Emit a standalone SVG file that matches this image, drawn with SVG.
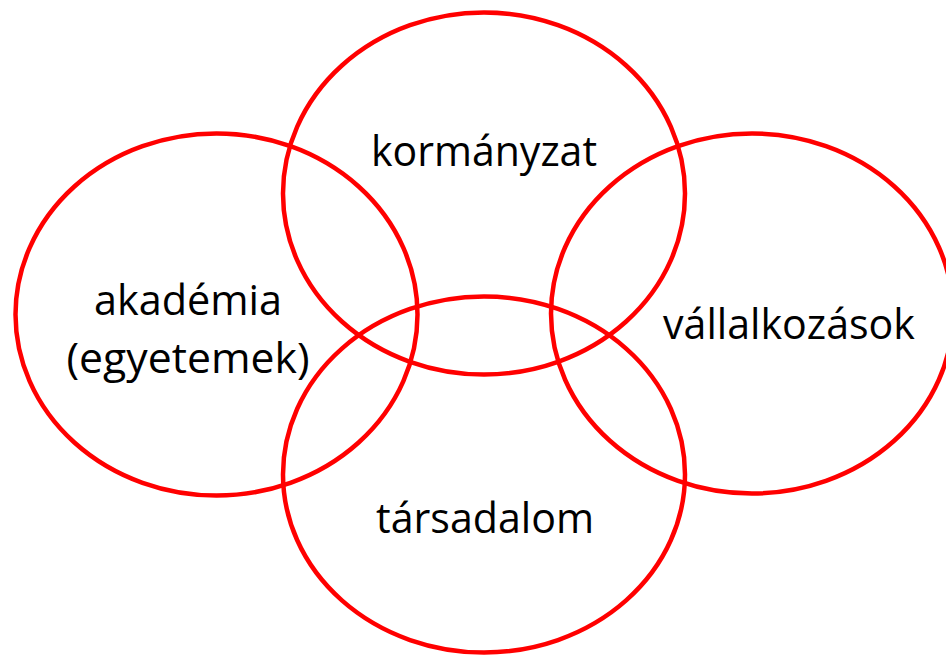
<svg xmlns="http://www.w3.org/2000/svg" width="946" height="656" viewBox="0 0 946 656">
  <style>
    .ring { fill: none; stroke: #ff0000; stroke-width: 4.5; }
    .label { font-family: "Open Sans", "Liberation Sans", sans-serif; font-size: 42px; fill: #000000; text-anchor: middle; }
  </style>
  <rect x="0" y="0" width="946" height="656" fill="#ffffff"/>
  <!-- sectors of the cooperation model -->
  <g id="kormanyzat">
    <ellipse class="ring" cx="484" cy="193.5" rx="201" ry="181"/>
    <text class="label" x="484" y="166" textLength="226" lengthAdjust="spacingAndGlyphs">kormányzat</text>
  </g>
  <g id="akademia">
    <ellipse class="ring" cx="216.5" cy="314.5" rx="201" ry="181"/>
    <text class="label" x="188" y="315" textLength="188" lengthAdjust="spacingAndGlyphs">akadémia</text>
    <text class="label" x="188" y="373" textLength="243" lengthAdjust="spacingAndGlyphs">(egyetemek)</text>
  </g>
  <g id="vallalkozasok">
    <ellipse class="ring" cx="752" cy="313.5" rx="201" ry="180"/>
    <text class="label" x="789" y="339" textLength="252" lengthAdjust="spacingAndGlyphs">vállalkozások</text>
  </g>
  <g id="tarsadalom">
    <ellipse class="ring" cx="484" cy="474.5" rx="201" ry="178"/>
    <text class="label" x="485" y="533" textLength="218" lengthAdjust="spacingAndGlyphs">társadalom</text>
  </g>
  <g id="connectors"/>
</svg>
